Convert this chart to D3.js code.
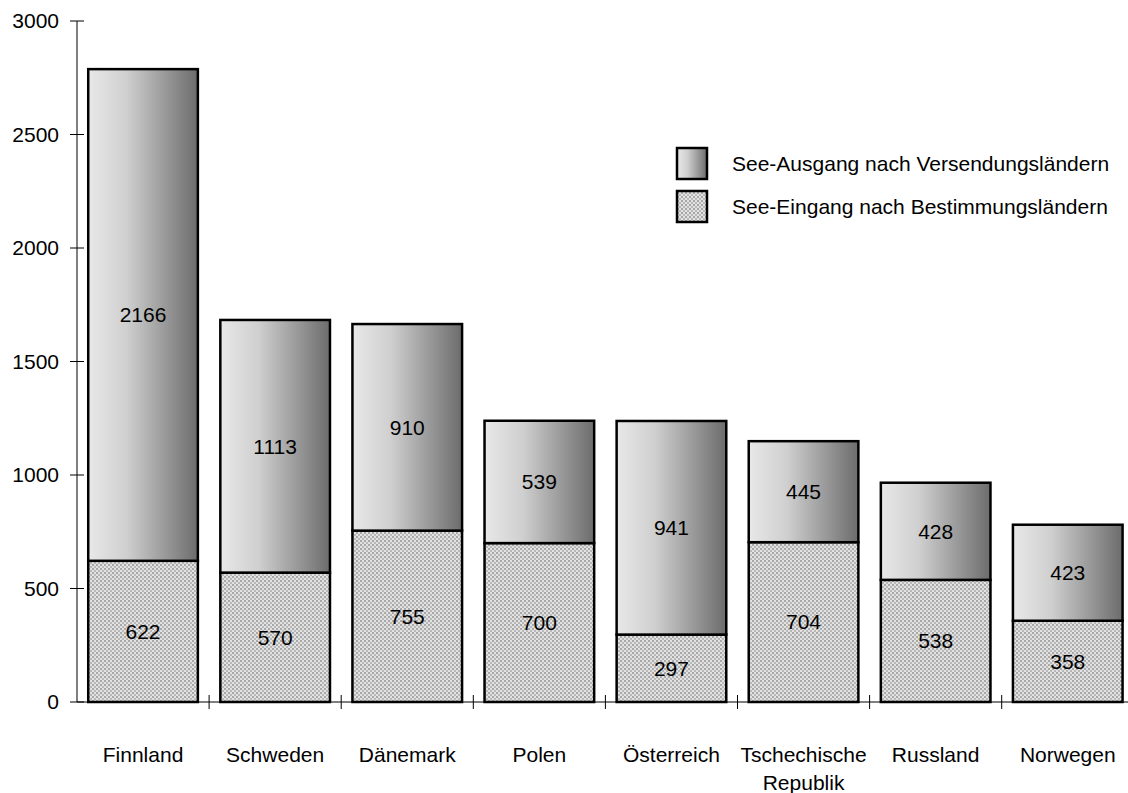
<!DOCTYPE html>
<html>
<head>
<meta charset="utf-8">
<script src="https://cdn.jsdelivr.net/npm/d3@7"></script>
<style>
  body { margin: 0; background: #fff; }
  text { font-family: "Liberation Sans", Arial, sans-serif; fill: #000; }
</style>
</head>
<body>
<script>
// Data
const countries = ["Finnland", "Schweden", "Dänemark", "Polen", "Österreich", "Tschechische Republik", "Russland", "Norwegen"];
const eingang = [622, 570, 755, 700, 297, 704, 538, 358];
const ausgang = [2166, 1113, 910, 539, 941, 445, 428, 423];
const yTicks = [0, 500, 1000, 1500, 2000, 2500, 3000];
const seriesNames = ["See-Ausgang nach Versendungsländern", "See-Eingang nach Bestimmungsländern"];

const W = 1128, H = 793;
const margin = { top: 21, right: 0, bottom: 91, left: 77 };
const fs = "21px";

const svg = d3.select("body").append("svg")
  .attr("width", W).attr("height", H);

const defs = svg.append("defs");

// gradient for the upper segment
const grad = defs.append("linearGradient").attr("id", "grad")
  .attr("x1", "0%").attr("x2", "100%").attr("y1", "0%").attr("y2", "0%");
grad.append("stop").attr("offset", "0%").attr("stop-color", "#e8e8e8");
grad.append("stop").attr("offset", "35%").attr("stop-color", "#cfcfcf");
grad.append("stop").attr("offset", "100%").attr("stop-color", "#6c6c6c");

// dotted pattern for the lower segment
const pat = defs.append("pattern").attr("id", "dots")
  .attr("patternUnits", "userSpaceOnUse").attr("width", 4).attr("height", 4);
pat.append("rect").attr("width", 4).attr("height", 4).attr("fill", "#e2e2e2");
pat.append("rect").attr("x", 0).attr("y", 0).attr("width", 2).attr("height", 2).attr("fill", "#a8a8a8");
pat.append("rect").attr("x", 2).attr("y", 2).attr("width", 2).attr("height", 2).attr("fill", "#b8b8b8");

const x = d3.scaleBand()
  .domain(countries)
  .range([margin.left, margin.left + 132.1 * countries.length])
  .paddingInner(0.17)
  .paddingOuter(0.085);

const y = d3.scaleLinear()
  .domain([0, 3000])
  .range([H - margin.bottom, margin.top]);

// y axis
const yAxis = svg.append("g").attr("transform", `translate(${margin.left},0)`);
yAxis.append("line")
  .attr("y1", y(0)).attr("y2", y(3000))
  .attr("stroke", "#000").attr("stroke-width", 1);
yAxis.selectAll(".yt").data(yTicks).enter().append("line")
  .attr("x1", -7).attr("x2", 7)
  .attr("y1", d => y(d)).attr("y2", d => y(d))
  .attr("stroke", "#000");
yAxis.selectAll(".yl").data(yTicks).enter().append("text")
  .attr("x", -18).attr("y", d => y(d))
  .attr("dy", "0.35em")
  .attr("text-anchor", "end")
  .style("font-size", fs)
  .text(d => d);

// bars
const bars = svg.append("g");
countries.forEach((c, i) => {
  const x0 = x(c), bw = x.bandwidth();
  const e = eingang[i], a = ausgang[i];
  bars.append("rect")
    .attr("x", x0).attr("y", y(e))
    .attr("width", bw).attr("height", y(0) - y(e))
    .attr("fill", "url(#dots)")
    .attr("stroke", "#000").attr("stroke-width", 2.5);
  bars.append("rect")
    .attr("x", x0).attr("y", y(e + a))
    .attr("width", bw).attr("height", y(e) - y(e + a))
    .attr("fill", "url(#grad)")
    .attr("stroke", "#000").attr("stroke-width", 2.5);
  bars.append("text")
    .attr("x", x0 + bw / 2).attr("y", y(e / 2))
    .attr("dy", "0.35em").attr("text-anchor", "middle")
    .style("font-size", fs).text(e);
  bars.append("text")
    .attr("x", x0 + bw / 2).attr("y", y(e + a / 2))
    .attr("dy", "0.35em").attr("text-anchor", "middle")
    .style("font-size", fs).text(a);
});

// x axis
const xAxis = svg.append("g");
xAxis.append("line")
  .attr("x1", margin.left).attr("x2", W)
  .attr("y1", y(0)).attr("y2", y(0))
  .attr("stroke", "#000");
const tickXs = countries.map((c, i) => margin.left + 132.1 * (i + 1));
xAxis.selectAll(".xt").data(tickXs).enter().append("line")
  .attr("x1", d => d).attr("x2", d => d)
  .attr("y1", y(0) - 7).attr("y2", y(0) + 7)
  .attr("stroke", "#000");
countries.forEach(c => {
  const cx = x(c) + x.bandwidth() / 2;
  const words = c === "Tschechische Republik" ? ["Tschechische", "Republik"] : [c];
  words.forEach((w, j) => {
    xAxis.append("text")
      .attr("x", cx).attr("y", 762 + j * 28)
      .attr("text-anchor", "middle")
      .style("font-size", fs)
      .text(w);
  });
});

// legend
const legend = svg.append("g").attr("transform", "translate(677,148)");
const fills = ["url(#grad)", "url(#dots)"];
seriesNames.forEach((s, i) => {
  legend.append("rect")
    .attr("x", 0).attr("y", i * 43)
    .attr("width", 30).attr("height", 31)
    .attr("fill", fills[i])
    .attr("stroke", "#000").attr("stroke-width", 2.5);
  legend.append("text")
    .attr("x", 55).attr("y", i * 43 + 15.5)
    .attr("dy", "0.35em")
    .style("font-size", fs)
    .text(s);
});
</script>
</body>
</html>
